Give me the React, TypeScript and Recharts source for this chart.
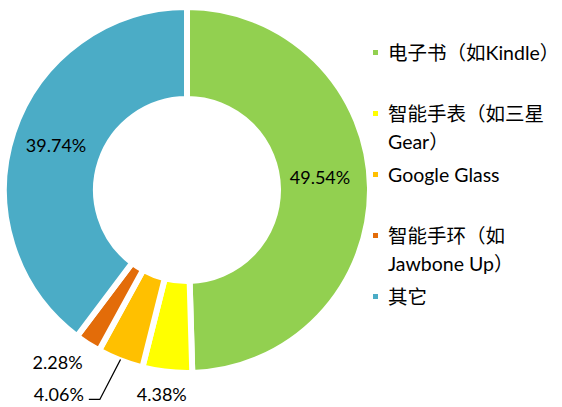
import React from "react";
import { PieChart, Pie, Cell, Legend } from "recharts";

const categories = ["电子书（如Kindle）", "智能手表（如三星Gear）", "Google Glass", "智能手环（如Jawbone Up）", "其它"];
const values = [49.54, 4.38, 4.06, 2.28, 39.74];
const valueLabels = ["49.54%", "4.38%", "4.06%", "2.28%", "39.74%"];
const legendLines = [["电子书（如Kindle）"], ["智能手表（如三星", "Gear）"], ["Google Glass"], ["智能手环（如", "Jawbone Up）"], ["其它"]];
const colors = ["#92D050", "#FFFF00", "#FFC000", "#E36C09", "#4BACC6"];

const data = categories.map((name, i) => ({ name, value: values[i] }));

const FONT = "Lato, 'Noto Sans CJK SC', sans-serif";
const RAD = Math.PI / 180;

const polar = (cx: number, cy: number, r: number, a: number) => ({
  x: cx + Math.cos(-a * RAD) * r,
  y: cy + Math.sin(-a * RAD) * r,
});

const renderLabel = (props: any) => {
  const { cx, cy, midAngle, index, innerRadius, outerRadius } = props;
  const text = valueLabels[index];
  const common = { fontFamily: FONT, fontSize: 18, fill: "#000" } as any;
  if (index === 0 || index === 4) {
    const p = polar(cx, cy, (innerRadius + outerRadius) / 2, midAngle);
    const dy = index === 0 ? -11 : -2;
    const dx = index === 0 ? -4 : -1;
    return (
      <text x={p.x + dx} y={p.y + dy} textAnchor="middle" dominantBaseline="central" {...common}>
        {text}
      </text>
    );
  }
  if (index === 1) {
    const p = polar(cx, cy, outerRadius + 22, midAngle);
    return (
      <text x={p.x - 3} y={p.y} textAnchor="middle" dominantBaseline="central" {...common}>
        {text}
      </text>
    );
  }
  if (index === 3) {
    const p = polar(cx, cy, outerRadius + 17, midAngle);
    return (
      <text x={p.x + 4} y={p.y + 4} textAnchor="end" dominantBaseline="central" {...common}>
        {text}
      </text>
    );
  }
  // index 2 with leader line
  const p0 = polar(cx, cy, outerRadius - 1, midAngle);
  const p1 = polar(cx, cy, outerRadius + 42, midAngle);
  const ex = p1.x - 5;
  const ey = p1.y;
  return (
    <g>
      <polyline points={`${p0.x},${p0.y} ${ex},${ey} ${ex - 11},${ey}`} fill="none" stroke="#000" strokeWidth={1.3} />
      <text x={ex - 16} y={ey - 5} textAnchor="end" dominantBaseline="central" {...common}>
        {text}
      </text>
    </g>
  );
};

const renderLegend = () => (
  <div style={{ fontFamily: FONT, fontSize: 19.5, color: "#000", width: 202 }}>
    {legendLines.map((lines, i) => (
      <div key={i} style={{ height: 61, position: "relative", paddingLeft: 28 }}>
        <div
          style={{
            position: "absolute",
            left: 13,
            top: 11,
            width: 5,
            height: 5,
            background: colors[i],
          }}
        />
        {lines.map((l, j) => (
          <div key={j} style={{ lineHeight: "28px", whiteSpace: "nowrap" }}>
            {l}
          </div>
        ))}
      </div>
    ))}
  </div>
);

export default function App() {
  return (
    <div style={{ position: "absolute", left: 0, top: 0, width: 562, height: 407, background: "#fff" }}>
      <PieChart width={562} height={407} margin={{ top: 0, right: 0, bottom: 0, left: 0 }}>
        <Pie
          data={data}
          dataKey="value"
          nameKey="name"
          cx={187}
          cy={190}
          startAngle={90}
          endAngle={-270}
          innerRadius={91}
          outerRadius={183}
          stroke="#fff"
          strokeWidth={6}
          label={renderLabel}
          labelLine={false}
          isAnimationActive={false}
        >
          {data.map((d, i) => (
            <Cell key={d.name} fill={colors[i]} />
          ))}
        </Pie>
        <Legend
          layout="vertical"
          align="right"
          verticalAlign="top"
          content={renderLegend}
          wrapperStyle={{ left: 360, top: 39, width: 202 }}
        />
      </PieChart>
    </div>
  );
}
